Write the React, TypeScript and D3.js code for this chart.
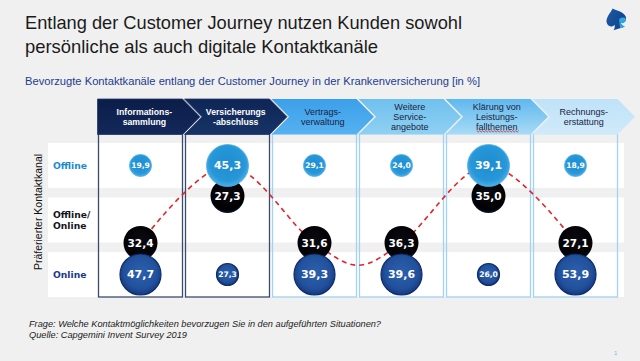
import React from 'react';
import * as d3 from 'd3';

// ---------- data ----------
const stageLabels: string[][] = [
  ['Informations-', 'sammlung'],
  ['Versicherungs', '-abschluss'],
  ['Vertrags-', 'verwaltung'],
  ['Weitere', 'Service-', 'angebote'],
  ['Klärung von', 'Leistungs-', 'fallthemen'],
  ['Rechnungs-', 'erstattung'],
];
const stageKeys = stageLabels.map((l) => l.join(''));
const rowLabels: string[][] = [['Offline'], ['Offline/', 'Online'], ['Online']];
const offlineValues = [19.9, 45.3, 29.1, 24.0, 39.1, 18.9];
const mixedValues = [32.4, 27.3, 31.6, 36.3, 35.0, 27.1];
const onlineValues = [47.7, 27.3, 39.3, 39.6, 26.0, 53.9];
// dashed trend line waypoints: stage position and row level (0 = Offline, 1 = Offline/Online, 2 = Online)
const trendStage = [0, 1, 2, 2.5, 3, 4, 5];
const trendLevel = [1.42, 0, 1.42, 1.83, 1.42, 0, 1.42];

const titleLines = [
  'Entlang der Customer Journey nutzen Kunden sowohl',
  'persönliche als auch digitale Kontaktkanäle',
];
const subtitle =
  'Bevorzugte Kontaktkanäle entlang der Customer Journey in der Krankenversicherung [in %]';
const axisTitle = 'Präferierter Kontaktkanal';
const footLines = [
  'Frage:  Welche Kontaktmöglichkeiten bevorzugen Sie in den aufgeführten Situationen?',
  'Quelle: Capgemini Invent Survey 2019',
];

// ---------- styles ----------
const headerFills = [
  ['#0b1d49', '#13295a'],
  ['#0e2656', '#173366'],
  ['#3c9fea', '#56b2f0'],
  ['#6fc0ee', '#8fd0f3'],
  ['#5fb8ee', '#a8dbf6'],
  ['#bfe2f8', '#cfeafa'],
];
const SANS = '"Liberation Sans", Arial, sans-serif';
const VERD = '"DejaVu Sans", Verdana, sans-serif';

const locale = d3.formatLocale({ decimal: ',', thousands: '.', grouping: [3], currency: ['', '€'] });
const fmt = locale.format('.1f');

export default function App() {
  const W = 640;
  const H = 361;

  const x = d3
    .scaleBand<string>()
    .domain(stageKeys)
    .range([98.5, 617.5])
    .paddingInner(3 / 87)
    .paddingOuter(0);
  const bw = x.bandwidth();
  const step = x.step();
  const x0 = x(stageKeys[0]) as number;
  const cx = (pos: number) => x0 + bw / 2 + pos * step;

  const y = d3.scaleLinear().domain([0, 2]).range([165.5, 274.5]);
  const bandH = 45;

  const rBlue = d3.scaleThreshold<number, number>().domain([30]).range([11, 21]);
  const rBlack = 17;
  const fsFor = (r: number) => (r >= 20 ? 11 : 7.6);

  const hTop = 99;
  const hBot = 134.5;
  const hMid = (hTop + hBot) / 2;
  const depth = 17.5;

  const lineGen = d3.line<[number, number]>().curve(d3.curveCatmullRom.alpha(0.5));
  const trendPts: [number, number][] = trendStage.map((s, i) => [cx(s), y(trendLevel[i])]);
  const trendPath = lineGen(trendPts) || '';

  const chevron = (i: number) => {
    const left = (x(stageKeys[i]) as number) - 1;
    const right = (x(stageKeys[i]) as number) + bw;
    const pts: [number, number][] = [
      [left, hTop],
      [right, hTop],
      [right + depth, hMid],
      [right, hBot],
      [left, hBot],
    ];
    if (i > 0) pts.push([left + depth, hMid]);
    return d3.line()(pts) + 'Z';
  };

  const headerCenter = (i: number) => {
    const left = (x(stageKeys[i]) as number) - 1;
    const right = (x(stageKeys[i]) as number) + bw;
    return (left + right) / 2 + (i === 0 ? depth / 4 : depth / 2);
  };

  const mixedY = (i: number) => (offlineValues[i] > onlineValues[i] ? y(0.56) : y(1.42));

  const squiggle = (cxp: number, yy: number, half: number) => {
    const pts: [number, number][] = d3
      .range(0, 2 * half + 0.01, 1.5)
      .map((d, k) => [cxp - half + d, yy + (k % 2 === 0 ? 0 : 1.4)]);
    return d3.line()(pts) || '';
  };

  return (
    <svg
      width={W}
      height={H}
      viewBox={`0 0 ${W} ${H}`}
      style={{ position: 'absolute', left: 0, top: 0, display: 'block' }}
    >
      <defs>
        <radialGradient id="offGrad" cx="50%" cy="45%" r="55%">
          <stop offset="0%" stopColor="#1e8dd1" />
          <stop offset="75%" stopColor="#2697d8" />
          <stop offset="100%" stopColor="#4eaee6" />
        </radialGradient>
        <radialGradient id="onGrad" cx="50%" cy="45%" r="55%">
          <stop offset="0%" stopColor="#2c60ad" />
          <stop offset="72%" stopColor="#22519c" />
          <stop offset="100%" stopColor="#143880" />
        </radialGradient>
        <radialGradient id="blkGrad" cx="50%" cy="40%" r="60%">
          <stop offset="0%" stopColor="#0a0a12" />
          <stop offset="85%" stopColor="#020204" />
          <stop offset="100%" stopColor="#0d1430" />
        </radialGradient>
        {headerFills.map((c, i) => (
          <linearGradient key={i} id={`hg${i}`} x1="0" y1="0" x2="0" y2="1">
            <stop offset="0%" stopColor={c[0]} />
            <stop offset="100%" stopColor={c[1]} />
          </linearGradient>
        ))}
        <linearGradient id="logoGrad" x1="0" y1="0" x2="1" y2="1">
          <stop offset="0%" stopColor="#1d5aa8" />
          <stop offset="100%" stopColor="#0f3f86" />
        </linearGradient>
      </defs>

      <rect x={0} y={0} width={W} height={H} fill="#f0f0f0" />

      {/* title */}
      {titleLines.map((t, i) => (
        <text
          key={i}
          x={25}
          y={29 + i * 23.5}
          fontFamily={SANS}
          fontSize={18.5}
          fill="#1b1b1b"
          textLength={i === 0 ? 437 : 353}
          lengthAdjust="spacingAndGlyphs"
        >
          {t}
        </text>
      ))}
      <text
        x={25}
        y={84.5}
        fontFamily={SANS}
        fontSize={11.5}
        fill="#1b3d8f"
        textLength={455}
        lengthAdjust="spacingAndGlyphs"
      >
        {subtitle}
      </text>

      {/* logo */}
      <g transform="translate(616,19) rotate(-18)">
        <path
          d="M0,-11 C4,-7 10,-4 10,1 C10,5 6,7 3,5 C3.5,7.5 4.5,9 6,10 L-6,10 C-4.5,9 -3.5,7.5 -3,5 C-6,7 -10,5 -10,1 C-10,-4 -4,-7 0,-11 Z"
          fill="url(#logoGrad)"
        />
        <path d="M3,1 C6,0 9,1 9.5,3 C9,6 5,7 3,5 C3.5,7.5 4.5,9 6,10 L1,10 C2,7 2,4 3,1 Z" fill="#2fa6e2" />
      </g>

      {/* row bands */}
      {rowLabels.map((_, k) => (
        <rect key={k} x={48} y={y(k) - bandH / 2} width={576} height={bandH} fill="#ffffff" />
      ))}

      {/* row labels */}
      {rowLabels.map((lines, k) => (
        <text
          key={k}
          x={53}
          fontFamily={VERD}
          fontWeight="bold"
          fontSize={9.2}
          fill={k === 0 ? '#1a8ad4' : k === 1 ? '#141420' : '#1a3a8c'}
        >
          {lines.map((l, j) => (
            <tspan key={j} x={53} y={y(k) + 3.3 + (j - (lines.length - 1) / 2) * 10.5}>
              {l}
            </tspan>
          ))}
        </text>
      ))}

      {/* axis title */}
      <text
        transform={`translate(42,212) rotate(-90)`}
        textAnchor="middle"
        fontFamily={SANS}
        fontSize={10.5}
        fill="#111"
      >
        {axisTitle}
      </text>

      {/* column boxes */}
      {stageKeys.map((k, i) => (
        <rect
          key={k}
          x={x(k) as number}
          y={hBot - 1}
          width={bw}
          height={297 - hBot + 1}
          fill="none"
          stroke={i < 2 ? '#3b4a6e' : '#9fd2f4'}
          strokeWidth={1.3}
        />
      ))}

      {/* headers */}
      {stageKeys.map((k, i) => (
        <g key={k}>
          <path d={chevron(i)} fill={`url(#hg${i})`} stroke={i < 2 ? '#24396a' : 'none'} strokeWidth={0.8} />
          <text
            textAnchor="middle"
            fontFamily={SANS}
            fontWeight={i < 2 ? 'bold' : 'normal'}
            fontSize={i < 2 ? 8.7 : 9}
            fill={i < 2 ? '#ffffff' : '#1b2240'}
          >
            {stageLabels[i].map((l, j) => (
              <tspan
                key={j}
                x={headerCenter(i)}
                y={120 + (j - (stageLabels[i].length - 1) / 2) * 9.7}
              >
                {l}
              </tspan>
            ))}
          </text>
        </g>
      ))}
      {/* spell-check squiggle under "fallthemen" */}
      <path
        d={squiggle(headerCenter(4) + 1.5, 130.6, 21.5)}
        fill="none"
        stroke="#e02020"
        strokeWidth={0.8}
      />

      {/* trend line */}
      <path d={trendPath} fill="none" stroke="#e3232b" strokeWidth={1.6} strokeDasharray="5 4" />

      {/* mixed (black) bubbles */}
      {mixedValues.map((v, i) => (
        <g key={`m${i}`}>
          <circle cx={cx(i)} cy={mixedY(i)} r={rBlack} fill="url(#blkGrad)" />
          <text
            x={cx(i)}
            y={mixedY(i)}
            dy="0.36em"
            textAnchor="middle"
            fontFamily={VERD}
            fontWeight="bold"
            fontSize={10.5}
            fill="#fff"
          >
            {fmt(v)}
          </text>
        </g>
      ))}

      {/* offline bubbles */}
      {offlineValues.map((v, i) => {
        const r = rBlue(v);
        return (
          <g key={`o${i}`}>
            <circle cx={cx(i)} cy={y(0)} r={r} fill="url(#offGrad)" stroke="#4aaee6" strokeWidth={0.8} />
            <text
              x={cx(i)}
              y={y(0)}
              dy="0.36em"
              textAnchor="middle"
              fontFamily={VERD}
              fontWeight="bold"
              fontSize={fsFor(r)}
              fill="#fff"
            >
              {fmt(v)}
            </text>
          </g>
        );
      })}

      {/* online bubbles */}
      {onlineValues.map((v, i) => {
        const r = rBlue(v) - (rBlue(v) > 11 ? 0.5 : 0);
        return (
          <g key={`n${i}`}>
            <circle cx={cx(i)} cy={y(2)} r={r} fill="url(#onGrad)" stroke="#0f2c6c" strokeWidth={1.2} />
            <text
              x={cx(i)}
              y={y(2)}
              dy="0.36em"
              textAnchor="middle"
              fontFamily={VERD}
              fontWeight="bold"
              fontSize={fsFor(r)}
              fill="#fff"
            >
              {fmt(v)}
            </text>
          </g>
        );
      })}

      {/* footer */}
      {footLines.map((t, i) => (
        <text
          key={i}
          x={29}
          y={327 + i * 11}
          fontFamily={SANS}
          fontStyle="italic"
          fontSize={8.6}
          fill="#222"
          textLength={i === 0 ? 352 : 158}
          lengthAdjust="spacingAndGlyphs"
        >
          {t}
        </text>
      ))}
      <text x={614} y={355} fontFamily={SANS} fontSize={6} fill="#7ab8e0">
        1
      </text>
    </svg>
  );
}
